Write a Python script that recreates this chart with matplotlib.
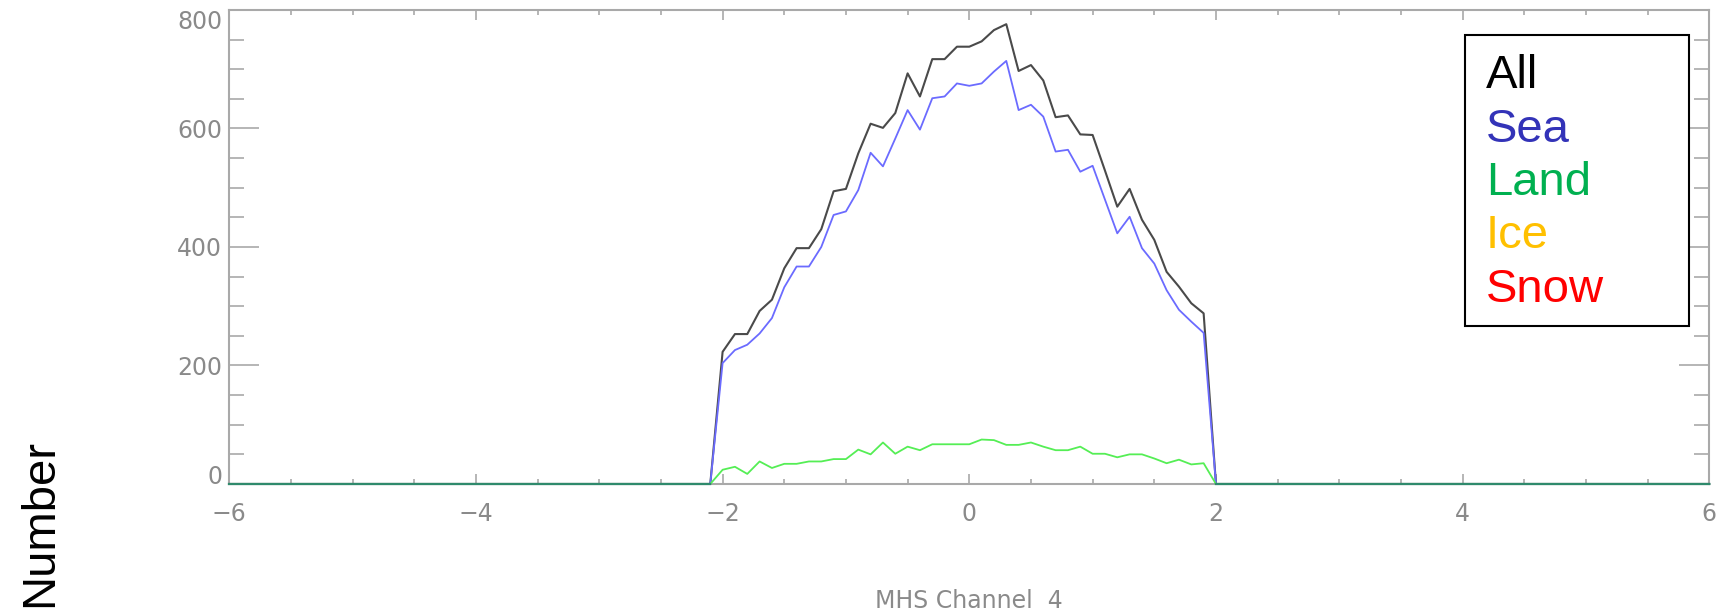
import numpy as np
import matplotlib
matplotlib.use("Agg")
import matplotlib.pyplot as plt
from matplotlib.patches import Rectangle
from matplotlib.ticker import MultipleLocator

# histogram bins (0.1 wide) over the whole axis range
bins = np.round(np.arange(-60, 61) * 0.1, 1)
first_bin = -2.0  # first non-empty bin

all_nz = [223, 253, 253, 292, 311, 364, 398, 398, 430, 494,
          498, 558, 608, 601, 626, 693, 654, 717, 717, 738,
          738, 747, 766, 776, 697, 707, 681, 619, 622, 590,
          589, 529, 468, 498, 446, 412, 358, 333, 305, 288]
sea_nz = [204, 226, 235, 254, 280, 332, 367, 367, 400, 454,
          460, 496, 559, 536, 583, 631, 598, 651, 654, 676,
          672, 676, 696, 714, 631, 640, 620, 561, 564, 527,
          537, 480, 423, 451, 398, 372, 327, 294, 274, 255]
land_nz = [24, 29, 17, 38, 27, 34, 34, 38, 38, 42,
           42, 58, 50, 70, 51, 63, 57, 67, 67, 67,
           67, 75, 74, 66, 66, 70, 63, 57, 57, 63,
           51, 51, 45, 50, 50, 43, 35, 41, 33, 35]

x_ticks = [-6, -4, -2, 0, 2, 4, 6]
y_ticks = [0, 200, 400, 600, 800]

legend_names = ["All", "Sea", "Land", "Ice", "Snow"]
legend_colors = ["black", "#3333b8", "#00b050", "#ffc000", "#ff0000"]


def fill(values):
    out = np.zeros(len(bins))
    i0 = int(np.searchsorted(bins, first_bin - 1e-6))
    out[i0:i0 + len(values)] = values
    return out


n_all = fill(all_nz)
n_sea = fill(sea_nz)
n_land = fill(land_nz)

axis_grey = "#a9a9a9"
label_grey = "#8a8a8a"

fig = plt.figure(figsize=(17.16, 6.11), dpi=100)
ax = fig.add_axes([0.1336, 0.2079, 0.8625, 0.7758])

ax.plot(bins, n_all, color="#4a4a4a", lw=1.5, zorder=3, clip_on=False)
ax.plot(bins, n_sea, color="#6b6bff", lw=1.3, zorder=3, clip_on=False)
ax.plot(bins, n_land, color="#55ee55", lw=1.3, zorder=3, clip_on=False)
# where every class is empty the three curves sit on top of each other
empty = (n_all == 0) & (n_sea == 0) & (n_land == 0)
ax.plot(bins, np.ma.masked_where(~empty, n_land), color="#2f8a6c", lw=1.6,
        zorder=3.1, clip_on=False)

ax.set_xlim(-6, 6)
ax.set_ylim(0, 800)
ax.set_xticks(x_ticks)
ax.set_yticks(y_ticks)
ax.xaxis.set_minor_locator(MultipleLocator(0.5))
ax.yaxis.set_minor_locator(MultipleLocator(50))

for s in ax.spines.values():
    s.set_color(axis_grey)
    s.set_linewidth(1.5)

ax.tick_params(which="both", direction="in", top=True, right=True,
               color=axis_grey, width=1.2, labelcolor=label_grey, labelsize=17)
ax.tick_params(axis="x", which="major", length=7.2, pad=13)
ax.tick_params(axis="x", which="minor", length=3.6)
ax.tick_params(axis="y", which="major", length=21.6, pad=5)
ax.tick_params(axis="y", which="minor", length=10.8)

# bottom and top y labels are nudged inside the frame
yt = ax.yaxis.get_major_ticks()
yt[0].label1.set_va("baseline")
yt[-1].label1.set_va("top")

ax.set_xlabel("MHS Channel  4", color=label_grey, fontsize=17, va="top")
ax.xaxis.set_label_coords(0.5, -0.221)
ax.set_ylabel("Number", color="black", fontsize=34,
              fontfamily="Liberation Sans", va="center")
ax.yaxis.set_label_coords(-0.128, -0.0814)

# legend box with coloured class names
ax.add_patch(Rectangle((0.8351, 0.3340), 0.1514, 0.6126, transform=ax.transAxes,
                       facecolor="white", edgecolor="black", lw=1.5, zorder=5))
for k, (name, col) in enumerate(zip(legend_names, legend_colors)):
    ax.text(0.8491, 0.8348 - k * 0.1126, name, color=col, fontsize=34,
            fontfamily="Liberation Sans", va="baseline", ha="left",
            transform=ax.transAxes, zorder=6)

fig.savefig("out.png", dpi=100)
